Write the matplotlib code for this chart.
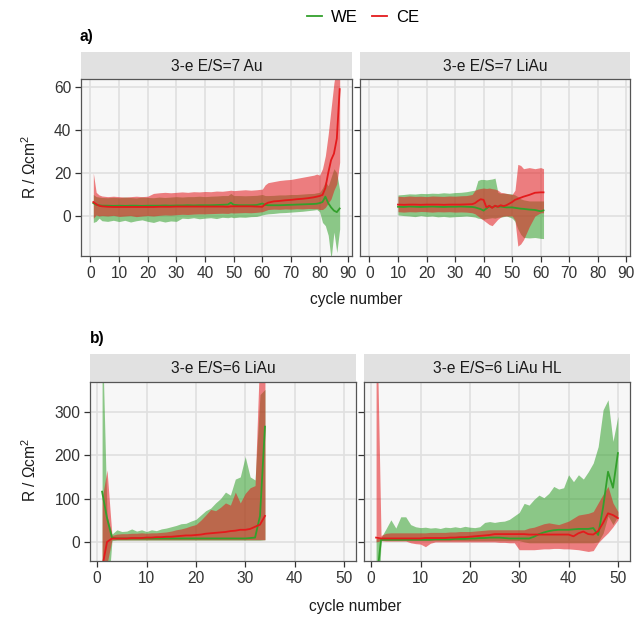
import numpy as np
import matplotlib
matplotlib.use("Agg")
import matplotlib.pyplot as plt
from matplotlib.lines import Line2D

plt.rcParams['font.family'] = ['Liberation Sans', 'DejaVu Sans']
plt.rcParams['mathtext.default'] = 'regular'

W, H = 634, 618

GREEN = "#33a02c"
RED = "#e41a1c"

# ---- a) 3-e E/S=7 Au
a1_x = [1, 2, 3, 4, 6, 8, 10, 12, 14, 16, 18, 20, 22, 24, 26, 28, 30, 32, 34, 36,
        38, 40, 42, 44, 46, 48, 49, 50, 52, 54, 56, 58, 60, 61, 62, 64, 66, 68, 70,
        72, 74, 76, 78, 79, 80, 81, 82, 83, 84, 85, 86, 87]
a1_we_mean = [6, 5.2, 5, 4.8, 4.8, 4.7, 4.8, 4.7, 4.8, 4.8, 4.7, 4.8, 4.8, 4.8, 4.9, 4.8,
              4.9, 4.9, 5, 4.9, 5, 5, 5, 5.1, 5.2, 5.3, 6.2, 5.2, 5, 5, 5, 5.1, 5.8, 5.2,
              5, 5, 5, 5.1, 5.2, 5.3, 5.4, 5.5, 5.6, 5.7, 6, 6.5, 9, 6, 4, 2.5, 1.8, 3.5]
a1_we_hi = [10, 9, 8.8, 8.6, 8.5, 8.7, 8.5, 8.8, 8.6, 8.4, 8.8, 8.6, 8.5, 8.8, 8.6, 8.8,
            9, 8.8, 9, 9, 9.2, 9, 9.2, 9.3, 9.5, 9.5, 10.5, 9.5, 9.5, 9.4, 9.5, 9.6, 10,
            9.5, 9.5, 9.6, 9.8, 9.8, 10, 10, 10.2, 10.4, 10.5, 10.8, 11, 13, 16, 14, 18,
            22, 20, 12]
a1_we_lo = [-3, -2.5, -1, -2.2, -2.5, -2, -2.6, -2, -2.8, -2.2, -1.8, -2.5, -3, -2.2, -2.8,
            -2.3, -2.5, -1, -1.2, -0.8, -1.3, -1, -0.8, -1.2, -0.6, -0.8, -0.5, -0.8, -0.5,
            -0.6, -0.3, -0.2, 0.5, 0.8, 1, 1.2, 1.5, 1.6, 1.8, 2, 2.2, 2.5, 2.8, 3, 2, -3,
            -4.5, -9, -20, -7.5, -17, -6]
a1_ce_mean = [6.5, 5.5, 4.8, 4.5, 4.3, 4.2, 4.2, 4.2, 4.2, 4.2, 4.2, 4.2, 4.2, 4.3, 4.3,
              4.3, 4.4, 4.4, 4.4, 4.4, 4.4, 4.4, 4.4, 4.4, 4.4, 4.3, 4.5, 4.5, 4.5, 4.5,
              4.5, 4.4, 4.3, 5.5, 6.2, 6.8, 7, 7.3, 7.5, 7.8, 8, 8.3, 8.7, 9, 9.3, 9.8, 13,
              20, 26, 29, 36, 59]
a1_ce_hi = [20, 11, 9.8, 9.3, 9, 9.2, 9, 8.8, 9, 9.2, 9, 9.2, 10.5, 10.8, 11, 10.8, 11,
            11.2, 11, 11.3, 11.2, 11.4, 11.3, 11.6, 11.5, 11.8, 12, 11.8, 12, 12.2, 12,
            12.2, 12.5, 14.5, 15.5, 16, 16.5, 16.8, 17, 17.5, 18, 18.5, 19, 19.5, 19, 22,
            28, 38, 50, 62, 70, 70]
a1_ce_lo = [-1, 0.5, 0, 0.2, 0, 0.3, -0.2, 0, 0.2, -0.3, 0, 0.2, 0, 0.3, 0.5, 0.4, 0.6,
            0.8, 0.7, 0.9, 1, 1, 1.1, 1.2, 1.3, 1.2, 1.5, 1.4, 1.5, 1.6, 1.5, 1.7, 2, 2.5,
            3, 3.2, 3.1, 3.3, 3.2, 3.4, 3.3, 3.5, 3.4, 3.5, 3, 3, 4, 6, 8, 12, 15, 25]

# ---- a) 3-e E/S=7 LiAu
a2_x = [10, 12, 14, 16, 18, 20, 22, 24, 26, 28, 30, 32, 34, 36, 37, 38, 39, 40, 41, 42,
        43, 44, 45, 46, 47, 48, 50, 51, 52, 53, 54, 56, 58, 60, 61]
a2_we_mean = [4.3, 4.2, 4.4, 4.3, 4.2, 4.3, 4.4, 4.3, 4.2, 4.3, 4.3, 4.4, 4.3, 4.2, 4.0,
              3.6, 3.2, 2.5, 3.5, 4.5, 4.0, 4.6, 4.3, 4.4, 4.2, 4.0, 4.0, 3.8, 3.6, 3.4,
              3.3, 3.0, 2.8, 2.2, 2.6]
a2_we_hi = [9.8, 10.0, 10.3, 10.2, 10.5, 10.4, 10.6, 10.5, 10.8, 10.6, 10.9, 11.0, 11.3,
            11.8, 12.0, 16.5, 17.0, 17.0, 16.8, 17.0, 17.2, 17.6, 11.0, 10.5, 10.6, 10.5,
            10.2, 9.8, 9.0, 8.0, 7.5, 7.0, 7.0, 7.0, 7.0]
a2_we_lo = [0.5, 0.2, 0.0, -0.3, 0.2, -0.2, 0.0, -0.4, -0.2, -0.5, -0.3, -0.2, 0.0, -0.3,
            -0.5, -1.0, -1.2, -1.5, -1.2, -1.0, -0.8, -1.0, -0.6, -0.5, -0.3, 0.0, -1.0,
            -2.5, -6.0, -8.5, -10.0, -10.2, -10.0, -10.4, -10.5]
a2_ce_mean = [5.3, 5.2, 5.3, 5.3, 5.2, 5.3, 5.3, 5.3, 5.2, 5.3, 5.3, 5.3, 5.4, 5.5, 6.0,
              7.0, 7.8, 7.5, 4.0, 4.8, 3.8, 4.8, 4.3, 5.0, 4.6, 5.0, 6.5, 7.5, 8.0, 8.5,
              9.0, 9.8, 10.8, 11.0, 11.0]
a2_ce_hi = [9.2, 9.0, 9.3, 9.1, 9.2, 9.0, 9.3, 9.2, 9.1, 9.3, 9.2, 9.4, 9.5, 10.0, 12.0,
            12.5, 12.8, 13.0, 12.8, 13.0, 12.7, 12.5, 12.0, 11.0, 10.8, 10.5, 10.0, 12.0,
            24.0, 23.5, 22.0, 22.5, 22.0, 22.5, 22.0]
a2_ce_lo = [2.0, 1.8, 2.0, 1.9, 2.1, 2.0, 1.8, 2.0, 1.9, 2.0, 1.8, 1.9, 1.8, 1.5, 1.0, 0.0,
            -1.0, -2.0, -3.0, -4.0, -4.5, -3.0, -1.5, -0.5, 0.0, 0.0, 0.0, -2.0, -14.0,
            -13.0, -11.0, -5.0, 0.0, 1.5, 1.5]

# ---- b) 3-e E/S=6 LiAu (cycles 1..34)
b1_x = list(range(1, 35))
b1_we_mean = [116, 55, 10, 8, 8, 8, 8, 8, 8, 8, 8, 8, 8, 8, 8, 8, 8, 8, 8, 8, 8, 8, 8, 8,
              8, 8, 8, 8, 8, 8, 9, 10, 60, 266]
b1_we_hi = [500, 60, 18, 28, 24, 25, 30, 25, 28, 24, 28, 26, 30, 32, 35, 38, 42, 43, 48,
            52, 62, 72, 78, 90, 100, 115, 108, 145, 150, 197, 150, 143, 340, 352]
b1_we_lo = [-300, -150, 3, 4, 4, 4, 4, 4, 4, 4, 4, 4, 4, 4, 4, 4, 4, 4, 4, 4, 4, 4, 4, 4,
            4, 4, 4, 4, 4, 4, 4, 4, 4, 5]
b1_ce_mean = [-60, 0, 8, 8, 8, 8, 9, 9, 9, 10, 10, 11, 11, 12, 12, 13, 14, 15, 15, 16, 17,
              19, 20, 21, 22, 23, 25, 26, 28, 28, 30, 35, 40, 60]
b1_ce_hi = [100, 166, 15, 18, 19, 19, 20, 20, 21, 20, 21, 21, 22, 23, 25, 28, 30, 33, 37,
            40, 50, 62, 75, 72, 80, 90, 85, 115, 90, 112, 125, 130, 450, 450]
b1_ce_lo = [-400, -50, 5, 5, 5, 5, 5, 5, 5, 5, 5, 5, 5, 5, 5, 5, 5, 5, 5, 5, 5, 5, 5, 5, 5,
            5, 5, 5, 5, 5, 5, 5, 5, 5]

# ---- b) 3-e E/S=6 LiAu HL (cycles 1..50)
b2_x = list(range(1, 51))
b2_we_mean = [-100, 5, 5, 5, 5, 5, 5, 5, 5, 5, 5, 5, 6, 6, 6, 6, 7, 7, 7, 8, 8, 9, 9, 10,
              10, 10, 9, 8, 8, 8, 8, 8, 12, 18, 22, 25, 27, 28, 28, 28, 29, 30, 30, 30, 32,
              16, 80, 162, 125, 205]
b2_we_hi = [8, 10, 30, 51, 32, 58, 58, 40, 35, 33, 34, 32, 33, 31, 34, 33, 35, 33, 36, 34,
            33, 35, 45, 47, 45, 47, 48, 52, 60, 68, 89, 85, 98, 108, 102, 112, 128, 122,
            125, 155, 139, 155, 145, 162, 182, 220, 305, 328, 232, 290]
b2_we_lo = [-300, 3, 3, 3, 3, 3, 3, 3, 3, 3, 3, 3, 3, 3, 3, 3, 3, 3, 3, 3, 3, 3, 3, 3, 3,
            3, 3, 3, 3, 3, 0, -2, -2, -2, -2, -2, -2, -2, -2, -2, -2, -2, -2, -2, -2, 0,
            20, 60, 40, 60]
b2_ce_mean = [10, 8, 8, 8, 8, 8, 8, 8, 8, 8, 9, 9, 9, 9, 9, 10, 10, 11, 11, 12, 13, 14, 15,
              16, 18, 18, 18, 18, 18, 18, 18, 17, 17, 17, 17, 17, 17, 17, 17, 17, 13, 20,
              24, 18, 17, 25, 44, 66, 62, 55]
b2_ce_hi = [600, 15, 20, 21, 21, 21, 21, 21, 21, 21, 21, 22, 22, 22, 22, 23, 23, 24, 24,
            24, 25, 26, 27, 28, 28, 28, 28, 28, 28, 28, 28, 32, 34, 38, 42, 44, 42, 40, 44,
            48, 55, 62, 64, 66, 70, 90, 110, 128, 90, 70]
b2_ce_lo = [0, 3, 2, 2, 2, 2, 2, -2, -4, -5, -11, -3, 0, 0, 0, 0, 0, 0, 0, 0, 0, 0, 0, 0,
            0, -1, -1, -2, -2, -18, -18, -18, -18, -17, -16, -16, -15, -15, -16, -16, -17,
            -18, -20, -22, -20, -2, 10, 21, 35, 51]

titles = ["3-e E/S=7 Au", "3-e E/S=7 LiAu", "3-e E/S=6 LiAu", "3-e E/S=6 LiAu HL"]

FS = 11.2


def rect(l, t, r, b):
    return [l / W, 1 - b / H, (r - l) / W, (b - t) / H]


def panel(box, strip_top, title, x, we, ce, xlim, ylim, xticks, yticks, show_y):
    l, t, r, b = box
    sax = fig.add_axes(rect(l, strip_top, r, t))
    sax.set_facecolor("#e1e1e1")
    for s in sax.spines.values():
        s.set_visible(False)
    sax.set_xticks([])
    sax.set_yticks([])
    sax.text(0.5, 0.48, title, ha="center", va="center", fontsize=FS,
             color="#1a1a1a", transform=sax.transAxes)

    ax = fig.add_axes(rect(l, t, r, b))
    ax.set_facecolor("#f7f7f7")
    ax.grid(True, color="#e0e0e0", lw=1.2)
    ax.set_axisbelow(True)
    for (mean, lo, hi), c in ((we, GREEN), (ce, RED)):
        ax.fill_between(x, lo, hi, color=c, alpha=0.55, lw=0)
        ax.plot(x, mean, color=c, lw=1.3)
    ax.set_xlim(*xlim)
    ax.set_ylim(*ylim)
    ax.set_xticks(xticks)
    ax.set_yticks(yticks)
    if not show_y:
        ax.set_yticklabels([])
        ax.tick_params(axis="y", length=0)
    ax.tick_params(direction="out", length=4, width=0.9, colors="#333333",
                   labelsize=FS, labelcolor="#333333", pad=3)
    for s in ax.spines.values():
        s.set_color("#555555")
        s.set_linewidth(0.9)
    return ax


fig = plt.figure(figsize=(W / 100, H / 100), dpi=100)

xa = list(range(0, 100, 10))
xb = list(range(0, 60, 10))

panel((81, 79, 352, 256), 52, titles[0], a1_x,
      (a1_we_mean, a1_we_lo, a1_we_hi), (a1_ce_mean, a1_ce_lo, a1_ce_hi),
      (-3.3, 91.3), (-18.6, 63.7), xa, [0, 20, 40, 60], True)
panel((360, 79, 630, 256), 52, titles[1], a2_x,
      (a2_we_mean, a2_we_lo, a2_we_hi), (a2_ce_mean, a2_ce_lo, a2_ce_hi),
      (-3.3, 91.3), (-18.6, 63.7), xa, [0, 20, 40, 60], False)
panel((90, 382, 356, 561), 354, titles[2], b1_x,
      (b1_we_mean, b1_we_lo, b1_we_hi), (b1_ce_mean, b1_ce_lo, b1_ce_hi),
      (-1.45, 52.45), (-44, 369), xb, [0, 100, 200, 300], True)
panel((364, 382, 630, 561), 354, titles[3], b2_x,
      (b2_we_mean, b2_we_lo, b2_we_hi), (b2_ce_mean, b2_ce_lo, b2_ce_hi),
      (-1.45, 52.45), (-44, 369), xb, [0, 100, 200, 300], False)

ylab = "R / Ωcm$^{2}$"
fig.text(30 / W, 1 - 167 / H, ylab, rotation=90, ha="center", va="center",
         fontsize=FS, color="#1a1a1a")
fig.text(30 / W, 1 - 470 / H, ylab, rotation=90, ha="center", va="center",
         fontsize=FS, color="#1a1a1a")
fig.text(356 / W, 1 - 299 / H, "cycle number", ha="center", va="center",
         fontsize=FS, color="#1a1a1a")
fig.text(355 / W, 1 - 606 / H, "cycle number", ha="center", va="center",
         fontsize=FS, color="#1a1a1a")
fig.text(80 / W, 1 - 37 / H, "a)", ha="left", va="center", fontsize=FS,
         fontweight="bold")
fig.text(90 / W, 1 - 338 / H, "b)", ha="left", va="center", fontsize=FS,
         fontweight="bold")

handles = [Line2D([], [], color=GREEN, lw=1.3), Line2D([], [], color=RED, lw=1.3)]
fig.legend(handles, ["WE", "CE"], loc="center", bbox_to_anchor=(363 / W, 1 - 17 / H),
           ncol=2, frameon=False, fontsize=12, handlelength=0.9,
           handletextpad=0.55, columnspacing=0.8)

fig.savefig("out.png", dpi=100)
